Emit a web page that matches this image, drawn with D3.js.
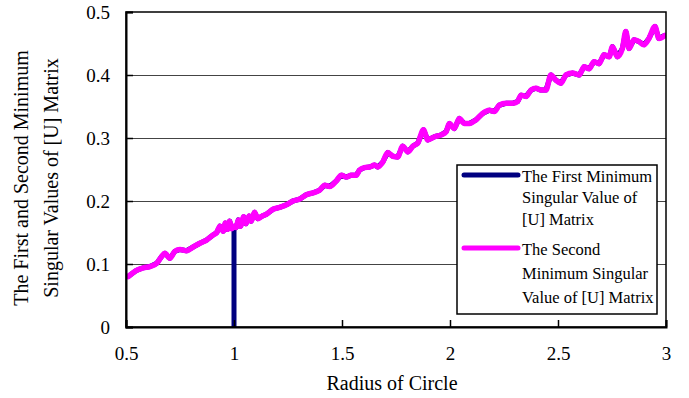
<!DOCTYPE html>
<html>
<head>
<meta charset="utf-8">
<script src="https://cdn.jsdelivr.net/npm/d3@7"></script>
<style>
  body { margin: 0; background: #fff; }
  svg text { font-family: "Liberation Serif", "Times New Roman", serif; fill: #000; }
</style>
</head>
<body>
<div id="chart"></div>
<script>
// radius of circle (x) and second minimum singular value (y)
var secondR = [0.51, 0.549, 0.58, 0.611, 0.642, 0.665, 0.68, 0.703, 0.726, 0.75,
  0.78, 0.811, 0.842, 0.873, 0.903, 0.92, 0.935, 0.95, 0.96, 0.97,
  0.98, 0.99, 1.0, 1.01, 1.02, 1.03, 1.045, 1.055, 1.07, 1.08,
  1.095, 1.11, 1.13, 1.15, 1.181, 1.212, 1.243, 1.273, 1.304, 1.335,
  1.366, 1.396, 1.42, 1.443, 1.474, 1.497, 1.52, 1.543, 1.566, 1.581,
  1.604, 1.628, 1.651, 1.666, 1.689, 1.712, 1.735, 1.758, 1.781, 1.805,
  1.828, 1.851, 1.877, 1.897, 1.928, 1.959, 1.982, 1.997, 2.02, 2.043,
  2.067, 2.09, 2.121, 2.151, 2.182, 2.205, 2.228, 2.259, 2.29, 2.313,
  2.329, 2.352, 2.375, 2.398, 2.421, 2.444, 2.467, 2.49, 2.513, 2.537,
  2.567, 2.598, 2.621, 2.644, 2.667, 2.69, 2.713, 2.737, 2.752, 2.775,
  2.798, 2.814, 2.829, 2.852, 2.875, 2.898, 2.921, 2.949, 2.967, 2.995];
var secondV = [0.080, 0.090, 0.094, 0.096, 0.101, 0.112, 0.117, 0.109, 0.120, 0.123,
  0.121, 0.127, 0.133, 0.138, 0.146, 0.150, 0.160, 0.152, 0.165, 0.155,
  0.168, 0.156, 0.160, 0.158, 0.170, 0.160, 0.175, 0.164, 0.176, 0.168,
  0.182, 0.172, 0.176, 0.179, 0.187, 0.190, 0.194, 0.200, 0.203, 0.210,
  0.213, 0.217, 0.225, 0.223, 0.232, 0.241, 0.238, 0.241, 0.241, 0.249,
  0.253, 0.254, 0.257, 0.254, 0.262, 0.277, 0.271, 0.270, 0.287, 0.278,
  0.287, 0.292, 0.313, 0.297, 0.302, 0.305, 0.310, 0.323, 0.315, 0.331,
  0.323, 0.323, 0.329, 0.339, 0.344, 0.342, 0.352, 0.355, 0.355, 0.358,
  0.368, 0.366, 0.376, 0.379, 0.376, 0.376, 0.400, 0.392, 0.387, 0.400,
  0.403, 0.400, 0.413, 0.410, 0.421, 0.418, 0.432, 0.429, 0.445, 0.429,
  0.442, 0.469, 0.442, 0.456, 0.453, 0.448, 0.458, 0.477, 0.458, 0.463];

// first minimum follows the second one except for the drop to zero at r = 1
var firstDipR = [1.0, 1.0, 1.0];
var firstDipV = [0.155, 0.0, 0.155];

var xTicks = [0.5, 1, 1.5, 2, 2.5, 3];
var yTicks = [0, 0.1, 0.2, 0.3, 0.4, 0.5];
var yTickLabels = ["0", "0.1", "0.2", "0.3", "0.4", "0.5"];

var legendLabels = [
  ["The First Minimum", "Singular Value of", "[U] Matrix"],
  ["The Second", "Minimum Singular", "Value of [U] Matrix"]
];

(function drawChart() {
  var W = 689, H = 398;
  var margin = {top: 12, right: 23, bottom: 71, left: 126};
  var w = W - margin.left - margin.right;   // 540
  var h = H - margin.top - margin.bottom;   // 315

  var xScale = d3.scaleLinear().domain([0.5, 3]).range([0, w]);
  var yScale = d3.scaleLinear().domain([0, 0.5]).range([h, 0]);

  var svg = d3.select("#chart").append("svg")
    .attr("width", W)
    .attr("height", H);

  var g = svg.append("g")
    .attr("transform", "translate(" + margin.left + "," + margin.top + ")");

  g.append("clipPath").attr("id", "plotClip")
    .append("rect").attr("x", 0).attr("y", -10).attr("width", w).attr("height", h + 10);

  // horizontal gridlines
  g.append("g").selectAll("line")
    .data(yTicks.slice(1, -1))
    .enter().append("line")
      .attr("x1", 0).attr("x2", w)
      .attr("y1", function(d) { return Math.round(yScale(d)) + 0.5; })
      .attr("y2", function(d) { return Math.round(yScale(d)) + 0.5; })
      .style("stroke", "#444")
      .style("stroke-width", 1);

  var second = secondR.map(function(r, i) { return {r: r, v: secondV[i]}; });
  var first = second.filter(function(d) { return d.r < 1.0; })
    .concat(firstDipR.map(function(r, i) { return {r: r, v: firstDipV[i]}; }))
    .concat(second.filter(function(d) { return d.r > 1.0; }));

  var line = d3.line()
    .x(function(d) { return xScale(d.r); })
    .y(function(d) { return yScale(d.v); })
    .curve(d3.curveLinear);

  var plot = g.append("g").attr("clip-path", "url(#plotClip)");

  plot.append("path")
    .datum(first)
    .attr("d", line)
    .style("fill", "none")
    .style("stroke", "#000080")
    .style("stroke-width", 5)
    .style("stroke-linejoin", "round");

  plot.append("path")
    .datum(second)
    .attr("d", line.curve(d3.curveMonotoneX))
    .style("fill", "none")
    .style("stroke", "#ff00ff")
    .style("stroke-width", 5.5)
    .style("stroke-linejoin", "round")
    .style("stroke-linecap", "round");

  // frame
  g.append("rect")
    .attr("x", 0).attr("y", 0).attr("width", w).attr("height", h)
    .style("fill", "none").style("stroke", "#000").style("stroke-width", 1.5);

  // x axis, ticks pointing inside
  var xAxis = g.append("g")
    .attr("transform", "translate(0," + h + ")")
    .call(d3.axisBottom(xScale).tickValues(xTicks).tickSize(-7).tickFormat(d3.format("")));
  xAxis.select(".domain").attr("stroke-width", 2);
  xAxis.selectAll("line").attr("stroke-width", 1.5);
  xAxis.selectAll("text")
    .attr("y", 33).attr("dy", 0)
    .style("font-size", "19px");

  // y axis
  var yAxis = g.append("g")
    .call(d3.axisLeft(yScale).tickValues(yTicks).tickSize(-7)
      .tickFormat(function(d, i) { return yTickLabels[i]; }));
  yAxis.select(".domain").attr("stroke-width", 2);
  yAxis.selectAll("line").attr("stroke-width", 1.5);
  yAxis.selectAll("text")
    .attr("x", -16).attr("dy", "0.35em")
    .style("font-size", "19px");
  svg.selectAll(".tick text").style("font-family", "'Liberation Serif', 'Times New Roman', serif");

  // axis titles
  svg.append("text")
    .attr("x", 392).attr("y", 390)
    .attr("text-anchor", "middle")
    .style("font-size", "20px")
    .text("Radius of Circle");

  var yTitle = ["The First and Second Minimum", "Singular Values of [U] Matrix"];
  svg.selectAll("text.ytitle")
    .data(yTitle)
    .enter().append("text")
      .attr("class", "ytitle")
      .attr("transform", function(d, i) { return "translate(" + (28 + i * 30) + ",178) rotate(-90)"; })
      .attr("text-anchor", "middle")
      .style("font-size", "20px")
      .text(function(d) { return d; });

  // legend
  var legend = svg.append("g").attr("transform", "translate(457,165)");
  legend.append("rect")
    .attr("width", 200).attr("height", 149)
    .style("fill", "#fff").style("stroke", "#000").style("stroke-width", 1.5);

  var legendColors = ["#000080", "#ff00ff"];
  var legendTop = [10, 83];
  var lineGap = [21.7, 24];
  legendLabels.forEach(function(lines, k) {
    legend.append("line")
      .attr("x1", 7).attr("x2", 61)
      .attr("y1", legendTop[k]).attr("y2", legendTop[k])
      .style("stroke", legendColors[k])
      .style("stroke-width", 5)
      .style("stroke-linecap", "round");
    lines.forEach(function(t, j) {
      legend.append("text")
        .attr("x", 65)
        .attr("y", legendTop[k] + 6.5 + j * lineGap[k])
        .style("font-size", "16.5px")
        .text(t);
    });
  });
})();
</script>
</body>
</html>
